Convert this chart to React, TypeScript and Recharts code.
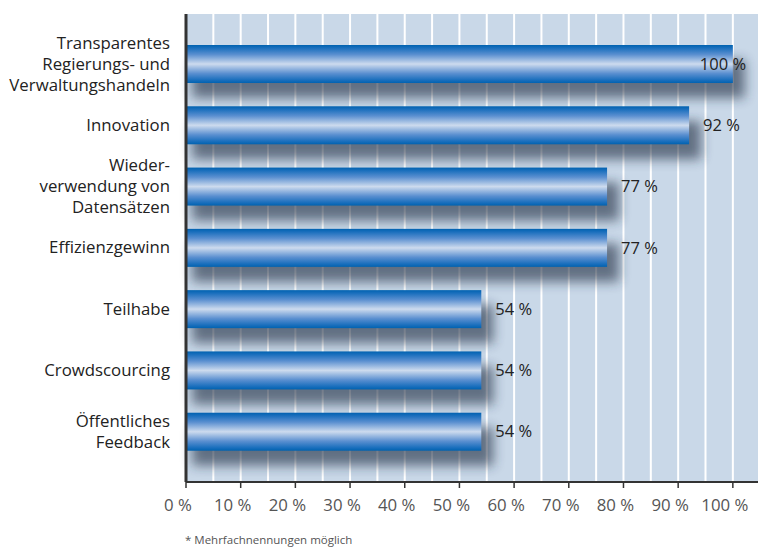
import { BarChart, Bar, XAxis, YAxis, CartesianGrid, LabelList } from "recharts";

const categories = [
  "Transparentes|Regierungs- und|Verwaltungshandeln",
  "Innovation",
  "Wieder-|verwendung von|Datensätzen",
  "Effizienzgewinn",
  "Teilhabe",
  "Crowdscourcing",
  "Öffentliches|Feedback",
];
const shares = [100, 92, 77, 77, 54, 54, 54];
const xTicks = [0, 10, 20, 30, 40, 50, 60, 70, 80, 90, 100];
const gridValues = [5, 10, 15, 20, 25, 30, 35, 40, 45, 50, 55, 60, 65, 70, 75, 80, 85, 90, 95, 100];
const X_MAX = 104.6;

const data = categories.map((name, i) => ({ name, value: shares[i] }));

const FONT = "'Open Sans', 'Noto Sans', sans-serif";
const W = 758;
const H = 547;

function scaleX(xAxis: any, offset: any, v: number) {
  const s = xAxis && xAxis.scale;
  if (typeof s === "function") return s(v);
  if (s && typeof s.map === "function") return s.map(v);
  return offset.left + (v / X_MAX) * offset.width;
}

function CategoryTick(props: any) {
  const { x, y, payload } = props;
  const lines = String(payload.value).split("|");
  const lh = 21;
  const y0 = y - ((lines.length - 1) * lh) / 2;
  return (
    <text x={x - 8} y={y0} textAnchor="end" fontFamily={FONT} fontSize={16.8} fill="#222">
      {lines.map((l, i) => (
        <tspan key={i} x={x - 8} y={y0 + i * lh} dy="0.35em">
          {l}
        </tspan>
      ))}
    </text>
  );
}

function GlossyBar(props: any) {
  const { x, y, width, height } = props;
  if (!width) return null;
  return (
    <g>
      <rect
        x={x + 6}
        y={y + 15}
        width={width + 6}
        height={height}
        fill="#1e2c40"
        opacity={0.6}
        filter="url(#barShadow)"
      />
      <rect x={x} y={y} width={width} height={height} fill="url(#barGlow)" />
    </g>
  );
}

function ValueLabel(props: any) {
  const { x, y, width, height, value } = props;
  let lx = x + width + 14;
  if (lx + 52 > W) lx = x + width - 33;
  return (
    <text x={lx} y={y + height / 2} dy="0.35em" fontFamily={FONT} fontSize={16.5} fill="#222">
      {`${value} %`}
    </text>
  );
}

export default function App() {
  return (
    <div style={{ position: "absolute", left: 0, top: 0, width: W, height: H, background: "#fff" }}>
      <BarChart
        width={W}
        height={H}
        data={data}
        layout="vertical"
        margin={{ top: 14, right: 0, left: 0, bottom: 0 }}
        barSize={38}
      >
        <defs>
          <linearGradient id="barGlow" x1="0" y1="0" x2="0" y2="1">
            <stop offset="0%" stopColor="#0062b0" />
            <stop offset="8%" stopColor="#1a6fbd" />
            <stop offset="25%" stopColor="#5a8fd0" />
            <stop offset="50%" stopColor="#cddbee" />
            <stop offset="75%" stopColor="#5a8fd0" />
            <stop offset="92%" stopColor="#1a6fbd" />
            <stop offset="100%" stopColor="#0062b0" />
          </linearGradient>
          <filter id="barShadow" x="-10%" y="-50%" width="120%" height="200%">
            <feGaussianBlur stdDeviation="6" />
          </filter>
        </defs>
        <CartesianGrid
          horizontal={false}
          fill="#c9d8e8"
          fillOpacity={1}
          stroke="#ffffff"
          strokeWidth={2}
          verticalCoordinatesGenerator={({ xAxis, offset }: any) =>
            gridValues.map((v) => scaleX(xAxis, offset, v))
          }
        />
        <XAxis
          type="number"
          domain={[0, X_MAX]}
          ticks={xTicks}
          height={65}
          tickFormatter={(v: number) => `${v} %`}
          tick={{ fill: "#555", fontSize: 16.8, fontFamily: FONT, dx: -8 }}
          tickMargin={11}
          tickSize={6}
          axisLine={{ stroke: "#333", strokeWidth: 2 }}
          tickLine={{ stroke: "#333", strokeWidth: 1.5 }}
          interval={0}
        />
        <YAxis
          type="category"
          dataKey="name"
          width={186}
          padding={{ top: 19, bottom: 20 }}
          tickLine={false}
          axisLine={{ stroke: "#333", strokeWidth: 3 }}
          tick={<CategoryTick />}
          interval={0}
        />
        <Bar dataKey="value" shape={<GlossyBar />} isAnimationActive={false}>
          <LabelList dataKey="value" content={<ValueLabel />} />
        </Bar>
      </BarChart>
      <div
        style={{
          position: "absolute",
          left: 185,
          top: 532,
          fontFamily: FONT,
          fontSize: 11.5,
          color: "#555",
          whiteSpace: "nowrap",
        }}
      >
        * Mehrfachnennungen möglich
      </div>
    </div>
  );
}
